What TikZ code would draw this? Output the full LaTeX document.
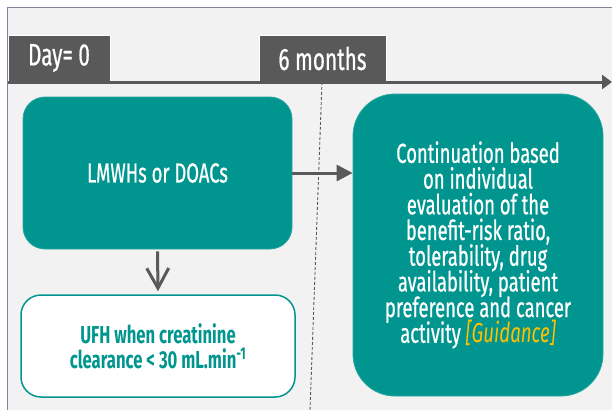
\documentclass[tikz,border=0pt]{standalone}
\usepackage{fontspec}
\setmainfont{Fira Sans}[FakeStretch=0.68]
\newfontfamily\medfont{Fira Sans}[FakeStretch=0.67, FakeBold=0.6]
\usetikzlibrary{arrows.meta}
\definecolor{teal}{HTML}{00968F}
\definecolor{darkgray}{HTML}{595959}
\definecolor{bggray}{HTML}{F2F2F2}
\definecolor{frame}{HTML}{8A7D99}
\definecolor{guide}{HTML}{FFC000}
\tikzset{
  tabbox/.style={fill=darkgray, draw=white, line width=0.8pt, text=white, font=\medfont\fontsize{31}{34}\selectfont, inner sep=0pt},
  tealbox/.style={fill=teal, draw=teal!85!white, line width=0.8pt, text=white, align=center, font=\medfont\fontsize{27.5}{25.7}\selectfont, inner sep=0pt},
  whitebox/.style={fill=white, draw=teal, line width=1.5pt, text=teal, align=center, font=\bfseries\fontsize{24.5}{25}\selectfont, inner sep=0pt},
  conn/.style={draw=darkgray, line width=3pt},
}
\begin{document}
\lineskiplimit=-30pt
\lineskip=0pt
\begin{tikzpicture}[x=1pt,y=-1pt]
\useasboundingbox (0,0) rectangle (612,410);
\fill[white] (0,0) rectangle (612,410);
\fill[bggray] (7,7) rectangle (612,410);
\draw[frame, line width=1pt] (7,410) -- (7,7) -- (612,7);
% timeline
\coordinate (t0) at (8,82);
\coordinate (t1) at (612,82);
\coordinate (d0) at (322,82);
\coordinate (d1) at (310,410);
\draw[darkgray, line width=0.9pt, dashed, dash pattern=on 3pt off 2pt] (d0) -- (d1);
\node[tabbox, minimum width=102, minimum height=46] (day) at (59,58) {Day= 0};
\node[tabbox, minimum width=127, minimum height=47] (six) at (322.5,58.5) {6 months};
\draw[conn, -{Triangle[length=10pt,width=14pt]}] (t0) -- (t1);
% boxes
\node[tealbox, rounded corners=22pt, minimum width=269, minimum height=152] (lmwh) at (157.5,173) {LMWHs or DOACs};
\node[whitebox, rounded corners=20pt, minimum width=274, minimum height=102] (ufh) at (158,346) {UFH when creatinine\\clearance < 30 mL.min\textsuperscript{-1}};
\node[tealbox, rounded corners=42pt, minimum width=250, minimum height=302] (cont) at (478,245) {Continuation based\\on individual\\evaluation of the\\benefit-risk ratio,\\tolerability, drug\\availability, patient\\preference and cancer\\activity \textcolor{guide}{\normalfont\itshape [Guidance]}};
% arrows
\draw[conn, -{Triangle[length=16pt,width=16pt]}] (lmwh.east) -- (lmwh.east -| cont.west);
\draw[conn, -{Straight Barb[length=20pt,width=22pt]}] ([yshift=-2pt]lmwh.south) -- ([yshift=3pt]ufh.north);
\end{tikzpicture}
\end{document}
